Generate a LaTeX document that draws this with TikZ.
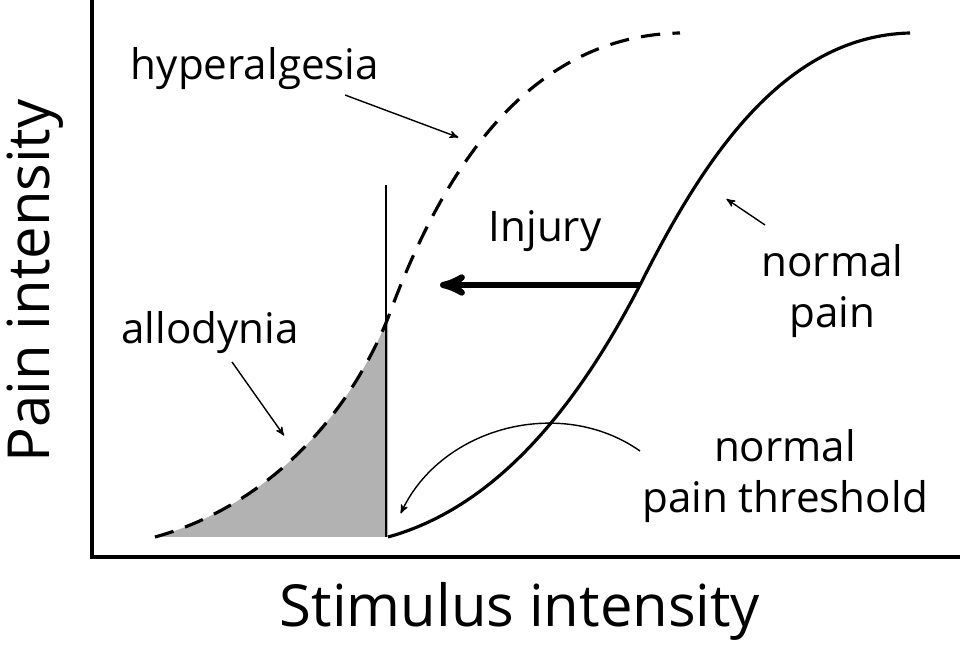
\documentclass[tikz,border=0pt]{standalone}
\usepackage{fontspec}
\setmainfont{Open Sans}
\usetikzlibrary{arrows,positioning}
\begin{document}
\begin{tikzpicture}[>=stealth',label/.style={font=\fontsize{24}{29}\selectfont,align=center},
            big/.style={font=\fontsize{33}{36}\selectfont},
            pointer/.style={->,line width=0.8pt,shorten >=1pt}]
      \useasboundingbox (0,0) rectangle (19.2,13.02);

      % axes
      \draw[line width=2pt] (1.84,13.02) -- (1.84,1.88) -- (19.2,1.88);
      \node[big,rotate=90] (ylab) at (0.7,7.4) {Pain intensity};
      \node[big] (xlab) at (10.4,0.8) {Stimulus intensity};

      \coordinate (d_0) at (3.1,2.28);
      \coordinate (d_1) at (7.76,6.66);
      \coordinate (d_2) at (13.6,12.36);
      \coordinate (s_0) at (7.76,2.28);
      \coordinate (s_1) at (12.8,7.32);
      \coordinate (s_2) at (18.2,12.36);

      % allodynia area
      \fill[gray!60] (d_0) .. controls (5.0,2.8) and (6.8,4.3) .. (d_1) -- (s_0) -- cycle;
      \draw[line width=0.6pt] (7.72,2.28) -- (7.72,9.32);

      % curves
      \draw[line width=1.8pt,dash pattern=on 11pt off 7pt] (d_0) .. controls (5.0,2.8) and (6.8,4.3) .. (d_1)
            .. controls (8.8,9.5) and (10.5,12.3) .. (d_2);
      \draw[line width=1.8pt] (s_0) .. controls (10,2.9) and (11.6,5.0) .. (s_1)
            .. controls (14.0,9.7) and (15.6,12.3) .. (s_2);

      % injury shift
      \coordinate (inj) at (8.8,7.32);
      \draw[->,line width=3.5pt] (s_1) -- (inj);
      \node[label] (injury) at (10.9,8.4) {Injury};

      % labels
      \node[label] (hyper) at (5.1,11.65) {hyperalgesia};
      \node[label] (allo) at (4.2,6.36) {allodynia};
      \node[label] (normal) at (16.65,7.2) {normal\\pain};
      \node[label] (thresh) at (15.7,3.5) {normal\\pain threshold};

      \coordinate (h_t) at (9.2,10.26);
      \coordinate (a_t) at (5.7,4.28);
      \coordinate (n_t) at (14.5,9.06);
      \coordinate (t_s) at (12.8,4.0);
      \coordinate (t_t) at (8.0,2.72);

      \draw[pointer] (6.9,11.12) -- (h_t);
      \draw[pointer] (4.64,5.78) -- (a_t);
      \draw[pointer] (15.3,8.52) -- (n_t);
      \draw[pointer] (t_s) to[bend right=50] (t_t);
\end{tikzpicture}
\end{document}
